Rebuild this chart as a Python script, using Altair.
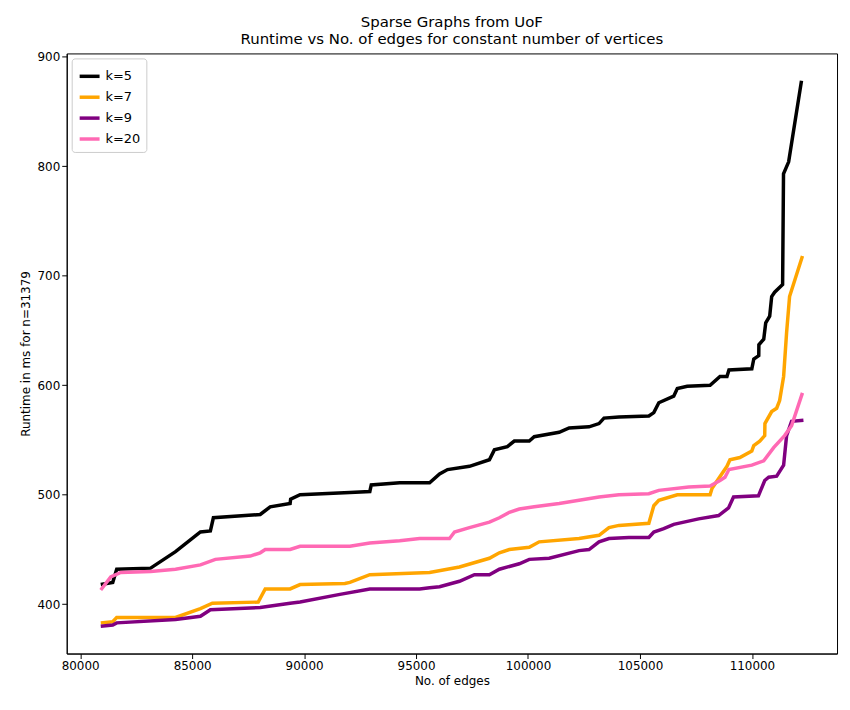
import altair as alt
import pandas as pd

k5_edges = [80920, 81455, 81633, 83146, 84259, 85371, 85816, 85950, 88041, 88486, 89376, 89400,
            89821, 92046, 92936, 93000, 94271, 95606, 96051, 96407, 97386, 98276, 98498, 99077,
            99388, 100056, 100278, 101391, 101836, 102726, 103171, 103393, 104061, 105396, 105618,
            105841, 106508, 106667, 107110, 108131, 108574, 108885, 108974, 109995, 110083, 110305,
            110310, 110527, 110616, 110793, 110882, 111015, 111370, 111410, 111640, 112213]
k5_runtime = [418, 420, 432, 433, 448, 466, 467, 479, 482, 489, 492, 496,
              500, 502, 503, 509, 511, 511, 519, 523, 526, 532, 541, 544,
              549, 549, 553, 557, 561, 562, 565, 570, 571, 572, 575,
              584, 590, 597, 599, 600, 608, 608, 614, 615, 624, 627,
              637, 642, 657, 663, 681, 685, 692, 793, 804, 878]

k7_edges = [80920, 81455, 81633, 84259, 85371, 85905, 87952, 88264, 89376, 89821, 91824, 92046,
            92936, 95606, 96941, 98276, 98721, 99166, 100056, 100501, 102281, 103171, 103616,
            104061, 105396, 105618, 105841, 106667, 108131, 108220, 108885, 109018, 109462, 109995,
            110083, 110349, 110571, 110580, 110882, 111104, 111237, 111415, 111548, 111681, 112257]
k7_runtime = [383, 384, 388, 388, 396, 401, 402, 414, 414, 418, 419, 420,
              427, 429, 434, 442, 447, 450, 452, 457, 460, 463, 470,
              472, 474, 490, 495, 500, 500, 506, 526, 532, 534, 540,
              545, 549, 554, 565, 576, 579, 586, 608, 648, 681, 718]

k9_edges = [80920, 81455, 81633, 84259, 85371, 85816, 88041, 89376, 89821, 91601, 92936, 95161,
            95606, 96051, 96941, 97608, 98276, 98721, 99611, 100056, 100946, 102281, 102726,
            103171, 103616, 104506, 105396, 105618, 106063, 106508, 107621, 108511, 108956, 109178,
            110290, 110571, 110750, 111104, 111415, 111548, 111770, 112300]
k9_runtime = [380, 381, 383, 386, 389, 395, 397, 401, 402, 409, 414, 414,
              415, 416, 421, 427, 427, 432, 437, 441, 442, 449, 450,
              457, 460, 461, 461, 466, 469, 473, 478, 481, 488, 498,
              499, 513, 516, 517, 527, 554, 567, 568]

k20_edges = [80920, 81366, 81811, 83146, 84259, 85371, 86039, 87596, 88041, 88264, 89376, 89821,
             92046, 92936, 94271, 95161, 96496, 96718, 97386, 98276, 98721, 99166, 99611, 100278,
             101391, 102281, 103171, 104061, 105396, 105841, 107176, 108131, 108574, 108796, 108974,
             109995, 110527, 110970, 111459, 111770, 112257]
k20_runtime = [413, 425, 429, 430, 432, 436, 441, 444, 447, 450, 450, 453,
               453, 456, 458, 460, 460, 466, 470, 475, 479, 484, 487, 489,
               492, 495, 498, 500, 501, 504, 507, 508, 513, 516, 523,
               527, 531, 543, 554, 563, 593]

series = ["k=5", "k=7", "k=9", "k=20"]
colors = ["#000000", "#FFA500", "#800080", "#FF69B4"]

frames = []
for name, xs, ys in [("k=5", k5_edges, k5_runtime), ("k=7", k7_edges, k7_runtime),
                     ("k=9", k9_edges, k9_runtime), ("k=20", k20_edges, k20_runtime)]:
    frames.append(pd.DataFrame({"k": name, "edges": xs, "runtime": ys, "order": range(len(xs))}))
df = pd.concat(frames)

chart = (
    alt.Chart(df)
    .mark_line(strokeWidth=3.5)
    .encode(
        x=alt.X("edges:Q", title="No. of edges",
                scale=alt.Scale(domain=[79400, 113800], nice=False, zero=False),
                axis=alt.Axis(values=[80000, 85000, 90000, 95000, 100000, 105000, 110000],
                              format="d", grid=False)),
        y=alt.Y("runtime:Q", title="Runtime in ms for n=31379",
                scale=alt.Scale(domain=[355, 903], nice=False, zero=False),
                axis=alt.Axis(values=[400, 500, 600, 700, 800, 900], grid=False)),
        color=alt.Color("k:N", sort=series, scale=alt.Scale(domain=series, range=colors),
                        legend=alt.Legend(title=None, orient="top-left", symbolType="stroke",
                                          symbolStrokeWidth=3.5, symbolSize=400, offset=5,
                                          strokeColor="#cccccc", padding=6, cornerRadius=3,
                                          fillColor="white", labelFontSize=13)),
        order="order:Q",
    )
    .properties(
        width=774, height=603,
        padding={"left": 12, "top": 5, "right": 5, "bottom": 5},
        title=alt.TitleParams(["Sparse Graphs from UoF",
                               "Runtime vs No. of edges for constant number of vertices"],
                              fontSize=15, fontWeight="normal", anchor="middle"),
    )
    .configure_view(stroke="black", strokeWidth=1)
    .configure_axis(domainColor="black", tickColor="black", labelColor="black",
                    titleColor="black", labelFontSize=12, titleFontSize=12,
                    titleFontWeight="normal", labelFont="DejaVu Sans", titleFont="DejaVu Sans")
    .configure_title(font="DejaVu Sans", color="black")
    .configure_legend(labelFont="DejaVu Sans")
)

chart.save("out.html", embed_options={"renderer": "svg", "actions": False})
